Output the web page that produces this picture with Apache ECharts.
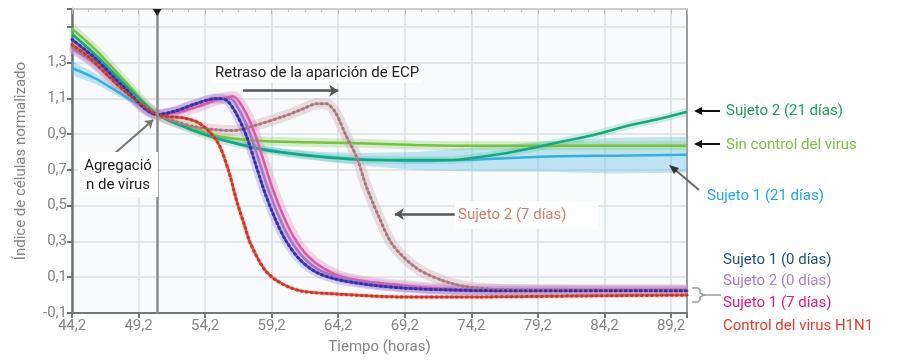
<!DOCTYPE html>
<html>
<head>
<meta charset="utf-8">
<script src="https://cdn.jsdelivr.net/npm/echarts@6/dist/echarts.min.js"></script>
<style>
    html, body { margin: 0; background: #fff; }
    #chart { width: 914px; height: 360px; }
</style>
</head>
<body>
<div id="chart"></div>
<script>
    // axis offsets (ticks start at 44,2 and -0,1)
    var X0 = 44.2, XMAX = 90.4;
    var Y0 = -0.1, YMAX = 1.6;
    var xTickLabels = ['44,2', '49,2', '54,2', '59,2', '64,2', '69,2', '74,2', '79,2', '84,2', '89,2'];
    var yTickLabels = ['-0,1', '0,1', '0,3', '0,5', '0,7', '0,9', '1,1', '1,3'];

    // Control del virus H1N1
    var hControl = [44.2, 45.5, 47, 48.5, 50.6, 52.6, 53.8, 55.1, 55.9, 56.6, 57.2, 57.6, 58.6, 59.6, 61.3, 64.3, 68.8, 75, 82, 90.4];
    var vControl = [1.40, 1.33, 1.22, 1.12, 1.01, 0.99, 0.96, 0.86, 0.71, 0.52, 0.38, 0.29, 0.15, 0.08, 0.025, 0.005, -0.01, -0.01, -0.005, 0.0];
    // Sujeto 1 (0 días)
    var hS1d0 = [44.2, 46, 48, 50.6, 52, 53.5, 55, 55.8, 56.5, 57.3, 58, 58.7, 59.5, 60.3, 61.3, 62.5, 64, 66.3, 69, 72, 76, 90.4];
    var vS1d0 = [1.43, 1.32, 1.17, 1.01, 1.03, 1.07, 1.10, 1.09, 1.02, 0.89, 0.73, 0.57, 0.42, 0.30, 0.20, 0.13, 0.09, 0.06, 0.04, 0.03, 0.025, 0.025];
    // Sujeto 2 (0 días)
    var hS2d0 = [44.2, 46, 48, 50.6, 52, 53.5, 55, 56.1, 56.8, 57.6, 58.3, 59, 59.8, 60.6, 61.6, 62.8, 64.3, 66.6, 69.3, 72.3, 76, 90.4];
    var vS2d0 = [1.38, 1.29, 1.16, 1.01, 1.03, 1.07, 1.10, 1.10, 1.03, 0.90, 0.74, 0.58, 0.43, 0.31, 0.21, 0.14, 0.10, 0.065, 0.045, 0.03, 0.025, 0.025];
    // Sujeto 1 (7 días)
    var hS1d7 = [44.2, 46, 48, 50.6, 52, 53.5, 55, 56.3, 57.1, 57.9, 58.6, 59.3, 60.1, 60.9, 61.9, 63.1, 64.6, 66.9, 69.6, 72.6, 76, 90.4];
    var vS1d7 = [1.40, 1.30, 1.16, 1.01, 1.02, 1.05, 1.09, 1.11, 1.04, 0.91, 0.75, 0.59, 0.44, 0.32, 0.22, 0.15, 0.10, 0.07, 0.05, 0.035, 0.03, 0.03];
    // Sujeto 2 (7 días)
    var hS2d7 = [44.2, 46, 48, 50.6, 52, 53.5, 55, 56.3, 58, 60.1, 61.5, 62.6, 63.3, 64, 64.8, 65.6, 66.3, 67.3, 68.3, 70.1, 72.1, 74, 77, 90.4];
    var vS2d7 = [1.39, 1.29, 1.15, 1.01, 0.97, 0.94, 0.925, 0.92, 0.95, 1.00, 1.04, 1.07, 1.07, 1.02, 0.89, 0.77, 0.61, 0.43, 0.28, 0.15, 0.08, 0.045, 0.03, 0.025];
    // Sin control del virus
    var hSin = [44.2, 46, 48, 50.6, 53, 55.1, 57, 58.8, 62, 65, 70, 75, 80, 85, 90.4];
    var vSin = [1.49, 1.37, 1.21, 1.01, 0.94, 0.89, 0.87, 0.86, 0.855, 0.85, 0.84, 0.835, 0.835, 0.835, 0.835];
    // Sujeto 2 (21 días)
    var hS2d21 = [44.2, 46, 48, 50.6, 53, 55.1, 57, 58.8, 60.7, 62.6, 65.1, 68, 72.6, 74.1, 76.5, 78.6, 81.1, 83.6, 86.1, 88.6, 90.4];
    var vS2d21 = [1.46, 1.34, 1.19, 1.01, 0.93, 0.875, 0.84, 0.81, 0.79, 0.775, 0.76, 0.755, 0.755, 0.765, 0.79, 0.82, 0.86, 0.90, 0.95, 0.99, 1.025];
    // Sujeto 1 (21 días) with its spread
    var hS1d21 = [44.2, 46, 48, 50.6, 53, 55.1, 57, 60, 63, 66, 70, 75, 80, 85, 90.4];
    var vS1d21 = [1.27, 1.21, 1.12, 1.01, 0.93, 0.88, 0.84, 0.80, 0.775, 0.76, 0.75, 0.76, 0.775, 0.78, 0.785];
    var sS1d21 = [0.04, 0.03, 0.02, 0.005, 0.01, 0.01, 0.015, 0.02, 0.025, 0.035, 0.05, 0.07, 0.085, 0.1, 0.1];

    var FONT = 'Roboto';

    function pts(xs, ys) {
        return xs.map(function (x, i) { return [x - X0, ys[i] - Y0]; });
    }

    function halo(xs, ys, color, width, opacity) {
        return {
            type: 'line', data: pts(xs, ys), smooth: 0.3, symbol: 'none', silent: true, z: 1,
            lineStyle: { color: color, width: width, opacity: opacity }
        };
    }

    function curve(name, xs, ys, color, width) {
        return {
            name: name, type: 'line', data: pts(xs, ys), smooth: 0.3, symbol: 'none', z: 3,
            lineStyle: { color: color, width: width }
        };
    }

    function beads(xs, ys, color) {
        return {
            type: 'line', data: pts(xs, ys), smooth: 0.3, symbol: 'none', silent: true, z: 4,
            lineStyle: { color: color, width: 3, type: [1, 4], cap: 'round' }
        };
    }

    // upper / lower edge of the Sujeto 1 (21 días) spread, drawn as one polygon
    var bandData = hS1d21.map(function (x, i) {
        return [x - X0, vS1d21[i] + sS1d21[i] - Y0, vS1d21[i] - sS1d21[i] - Y0];
    });

    var chart = echarts.init(document.getElementById('chart'));

    chart.setOption({
        animation: false,
        textStyle: { fontFamily: FONT },
        grid: { left: 72, right: 227, top: 9, bottom: 44, show: true, backgroundColor: '#f8fafc', borderWidth: 0 },
        xAxis: [{
            type: 'value', min: 0, max: XMAX - X0, interval: 5,
            axisLine: { onZero: false, lineStyle: { color: '#74777b', width: 2 } },
            axisTick: { length: 5, lineStyle: { color: '#74777b', width: 2 } },
            splitLine: { lineStyle: { color: '#dcdfe2', width: 1.5 } },
            axisLabel: {
                color: '#858585', fontSize: 15, margin: 6, fontFamily: FONT,
                formatter: function (v) { var i = Math.round(v / 5); return (Math.abs(v - i * 5) < 1e-6 && xTickLabels[i]) || ''; }
            },
            name: 'Tiempo (horas)', nameLocation: 'middle', nameGap: 27,
            nameTextStyle: { color: '#858585', fontSize: 15, fontFamily: FONT }
        }, {
            type: 'value', position: 'top', min: 0, max: XMAX - X0, interval: 5,
            axisLine: { onZero: false, lineStyle: { color: '#c9cbce', width: 2 } },
            axisTick: { inside: true, length: 5, lineStyle: { color: '#b5b7ba' } },
            minorTick: { show: true, splitNumber: 4, length: 3, lineStyle: { color: '#c5c7ca' } },
            axisLabel: { show: false }, splitLine: { show: false }
        }],
        yAxis: [{
            type: 'value', min: 0, max: YMAX - Y0, interval: 0.2,
            axisLine: { show: true, onZero: false, lineStyle: { color: '#6d7075', width: 2.5 } },
            axisTick: { show: true, length: 5, lineStyle: { color: '#6d7075', width: 2 } },
            splitLine: { lineStyle: { color: '#dcdfe2', width: 1.5 } },
            axisLabel: {
                color: '#858585', fontSize: 15, margin: 5, fontFamily: FONT,
                formatter: function (v) { var i = Math.round(v / 0.2); return (Math.abs(v - i * 0.2) < 1e-6 && yTickLabels[i]) || ''; }
            },
            name: 'Índice de células normalizado', nameLocation: 'middle', nameGap: 43,
            nameTextStyle: { color: '#858585', fontSize: 15, fontFamily: FONT }
        }, {
            type: 'value', position: 'right', min: 0, max: YMAX - Y0,
            axisLine: { show: true, onZero: false, lineStyle: { color: '#9a9c9f', width: 2 } },
            axisTick: { show: false }, axisLabel: { show: false }, splitLine: { show: false }
        }],
        series: [
            {
                type: 'custom', data: bandData, silent: true, z: 1,
                renderItem: function (params, api) {
                    if (params.dataIndex !== 0) return null;
                    var upper = [], lower = [];
                    for (var i = 0; i < bandData.length; i++) {
                        upper.push(api.coord([bandData[i][0], bandData[i][1]]));
                        lower.unshift(api.coord([bandData[i][0], bandData[i][2]]));
                    }
                    return {
                        type: 'polygon',
                        shape: { points: upper.concat(lower) },
                        style: { fill: 'rgba(110, 196, 228, 0.42)' }
                    };
                }
            },
            halo(hSin, vSin, '#8fd16a', 9, 0.35),
            halo(hS2d21, vS2d21, '#4fc39a', 8, 0.25),
            halo(hS2d7, vS2d7, '#d4b8c0', 11, 0.45),
            halo(hS1d7, vS1d7, '#e58ac0', 11, 0.35),
            halo(hS2d0, vS2d0, '#c39ad8', 10, 0.35),
            halo(hS1d0, vS1d0, '#8f87dc', 9, 0.35),
            halo(hControl, vControl, '#eb9a90', 5, 0.3),
            curve('Sin control del virus', hSin, vSin, '#76c043', 2.5),
            curve('Sujeto 1 (21 días)', hS1d21, vS1d21, '#35b0dc', 2.5),
            curve('Sujeto 2 (21 días)', hS2d21, vS2d21, '#16a77a', 2.5),
            curve('Sujeto 2 (7 días)', hS2d7, vS2d7, '#c49090', 2),
            beads(hS2d7, vS2d7, '#a8767e'),
            curve('Sujeto 1 (7 días)', hS1d7, vS1d7, '#de5aa0', 2.5),
            curve('Sujeto 2 (0 días)', hS2d0, vS2d0, '#a874c8', 2.5),
            curve('Sujeto 1 (0 días)', hS1d0, vS1d0, '#5a4ec2', 2.5),
            beads(hS1d0, vS1d0, '#3a2fa0'),
            curve('Control del virus H1N1', hControl, vControl, '#e05a48', 2.5),
            beads(hControl, vControl, '#c23a2c'),
            {
                type: 'line', data: [], silent: true, z: 6,
                markLine: {
                    silent: true, animation: false, label: { show: false },
                    lineStyle: { type: 'solid' },
                    data: [
                        [{ coord: [50.6 - X0, 0], symbol: 'none', lineStyle: { color: '#8a8c8f', width: 2.5, type: 'solid' } },
                         { coord: [50.6 - X0, YMAX - Y0], symbol: 'none' }],
                        [{ coord: [57.05 - X0, 1.143 - Y0], symbol: 'none', lineStyle: { color: '#555', width: 2.5, type: 'solid' } },
                         { coord: [64.2 - X0, 1.143 - Y0], symbol: 'arrow', symbolSize: 9 }],
                        [{ coord: [72.95 - X0, 0.454 - Y0], symbol: 'none', lineStyle: { color: '#555', width: 2.5, type: 'solid' } },
                         { coord: [68.45 - X0, 0.454 - Y0], symbol: 'arrow', symbolSize: 9 }],
                        [{ coord: [47.2 - X0, 0.78 - Y0], symbol: 'none', lineStyle: { color: '#777', width: 2, type: 'solid' } },
                         { coord: [50.3 - X0, 0.98 - Y0], symbol: 'arrow', symbolSize: 8 }]
                    ]
                },
                markPoint: {
                    silent: true, animation: false, label: { show: false },
                    data: [{ coord: [50.6 - X0, YMAX - Y0 - 0.02], symbol: 'triangle', symbolRotate: 180, symbolSize: [9, 7],
                             itemStyle: { color: '#222' } }]
                }
            }
        ],
        graphic: [
            { type: 'text', left: 212, top: 64, z: 10,
              style: { text: 'Retraso de la aparición de ECP', font: '15px Roboto', fill: '#222', backgroundColor: '#fff', padding: [2, 3] } },
            { type: 'rect', shape: { x: 78, y: 152, width: 80, height: 45 }, style: { fill: '#fff' }, z: 10 },
            { type: 'text', x: 118, y: 166, z: 11,
              style: { text: 'Agregació', font: '15px Roboto', fill: '#222', align: 'center', verticalAlign: 'middle' } },
            { type: 'text', x: 118, y: 185, z: 11,
              style: { text: 'n de virus', font: '15px Roboto', fill: '#222', align: 'center', verticalAlign: 'middle' } },
            { type: 'rect', shape: { x: 455, y: 201, width: 143, height: 28 }, style: { fill: '#fff' }, z: 10 },
            { type: 'text', x: 458, y: 215, z: 11,
              style: { text: 'Sujeto 2 (7 días)', font: '15px Roboto', fill: '#c8806f', verticalAlign: 'middle' } },

            // right side labels
            { type: 'text', x: 726, y: 111, style: { text: 'Sujeto 2 (21 días)', font: '15px Roboto', fill: '#1b9e5a', verticalAlign: 'middle' } },
            { type: 'text', x: 726, y: 145, style: { text: 'Sin control del virus', font: '15px Roboto', fill: '#7cc242', verticalAlign: 'middle' } },
            { type: 'text', x: 707, y: 196, style: { text: 'Sujeto 1 (21 días)', font: '15px Roboto', fill: '#21a7e0', verticalAlign: 'middle' } },
            { type: 'text', x: 723, y: 260, style: { text: 'Sujeto 1 (0 días)', font: '15px Roboto', fill: '#1e4f7a', verticalAlign: 'middle' } },
            { type: 'text', x: 723, y: 281, style: { text: 'Sujeto 2 (0 días)', font: '15px Roboto', fill: '#a87fc4', verticalAlign: 'middle' } },
            { type: 'text', x: 723, y: 303, style: { text: 'Sujeto 1 (7 días)', font: '15px Roboto', fill: '#e3177d', verticalAlign: 'middle' } },
            { type: 'text', x: 723, y: 326, style: { text: 'Control del virus H1N1', font: '15px Roboto', fill: '#e83a2e', verticalAlign: 'middle' } },

            // arrows to the right labels
            { type: 'line', shape: { x1: 720, y1: 111, x2: 697, y2: 111 }, style: { stroke: '#111', lineWidth: 2 } },
            { type: 'polygon', shape: { points: [[694, 111], [702, 107], [702, 115]] }, style: { fill: '#111' } },
            { type: 'line', shape: { x1: 720, y1: 144, x2: 697, y2: 144 }, style: { stroke: '#111', lineWidth: 2 } },
            { type: 'polygon', shape: { points: [[694, 144], [702, 140], [702, 148]] }, style: { fill: '#111' } },
            { type: 'line', shape: { x1: 699, y1: 190, x2: 673, y2: 168 }, style: { stroke: '#666', lineWidth: 2 }, z: 10 },
            { type: 'polygon', shape: { points: [[669, 165], [679, 168], [674, 174]] }, style: { fill: '#333' }, z: 10 },
            { type: 'polyline', shape: { points: [[692, 288], [698, 288], [700, 290], [700, 293], [704, 295], [700, 297], [700, 300], [698, 302], [692, 302]] },
              style: { stroke: '#999', lineWidth: 1.5, fill: null } },
            { type: 'line', shape: { x1: 704, y1: 295, x2: 721, y2: 295 }, style: { stroke: '#999', lineWidth: 1.5 } }
        ]
    });
</script>
</body>
</html>
